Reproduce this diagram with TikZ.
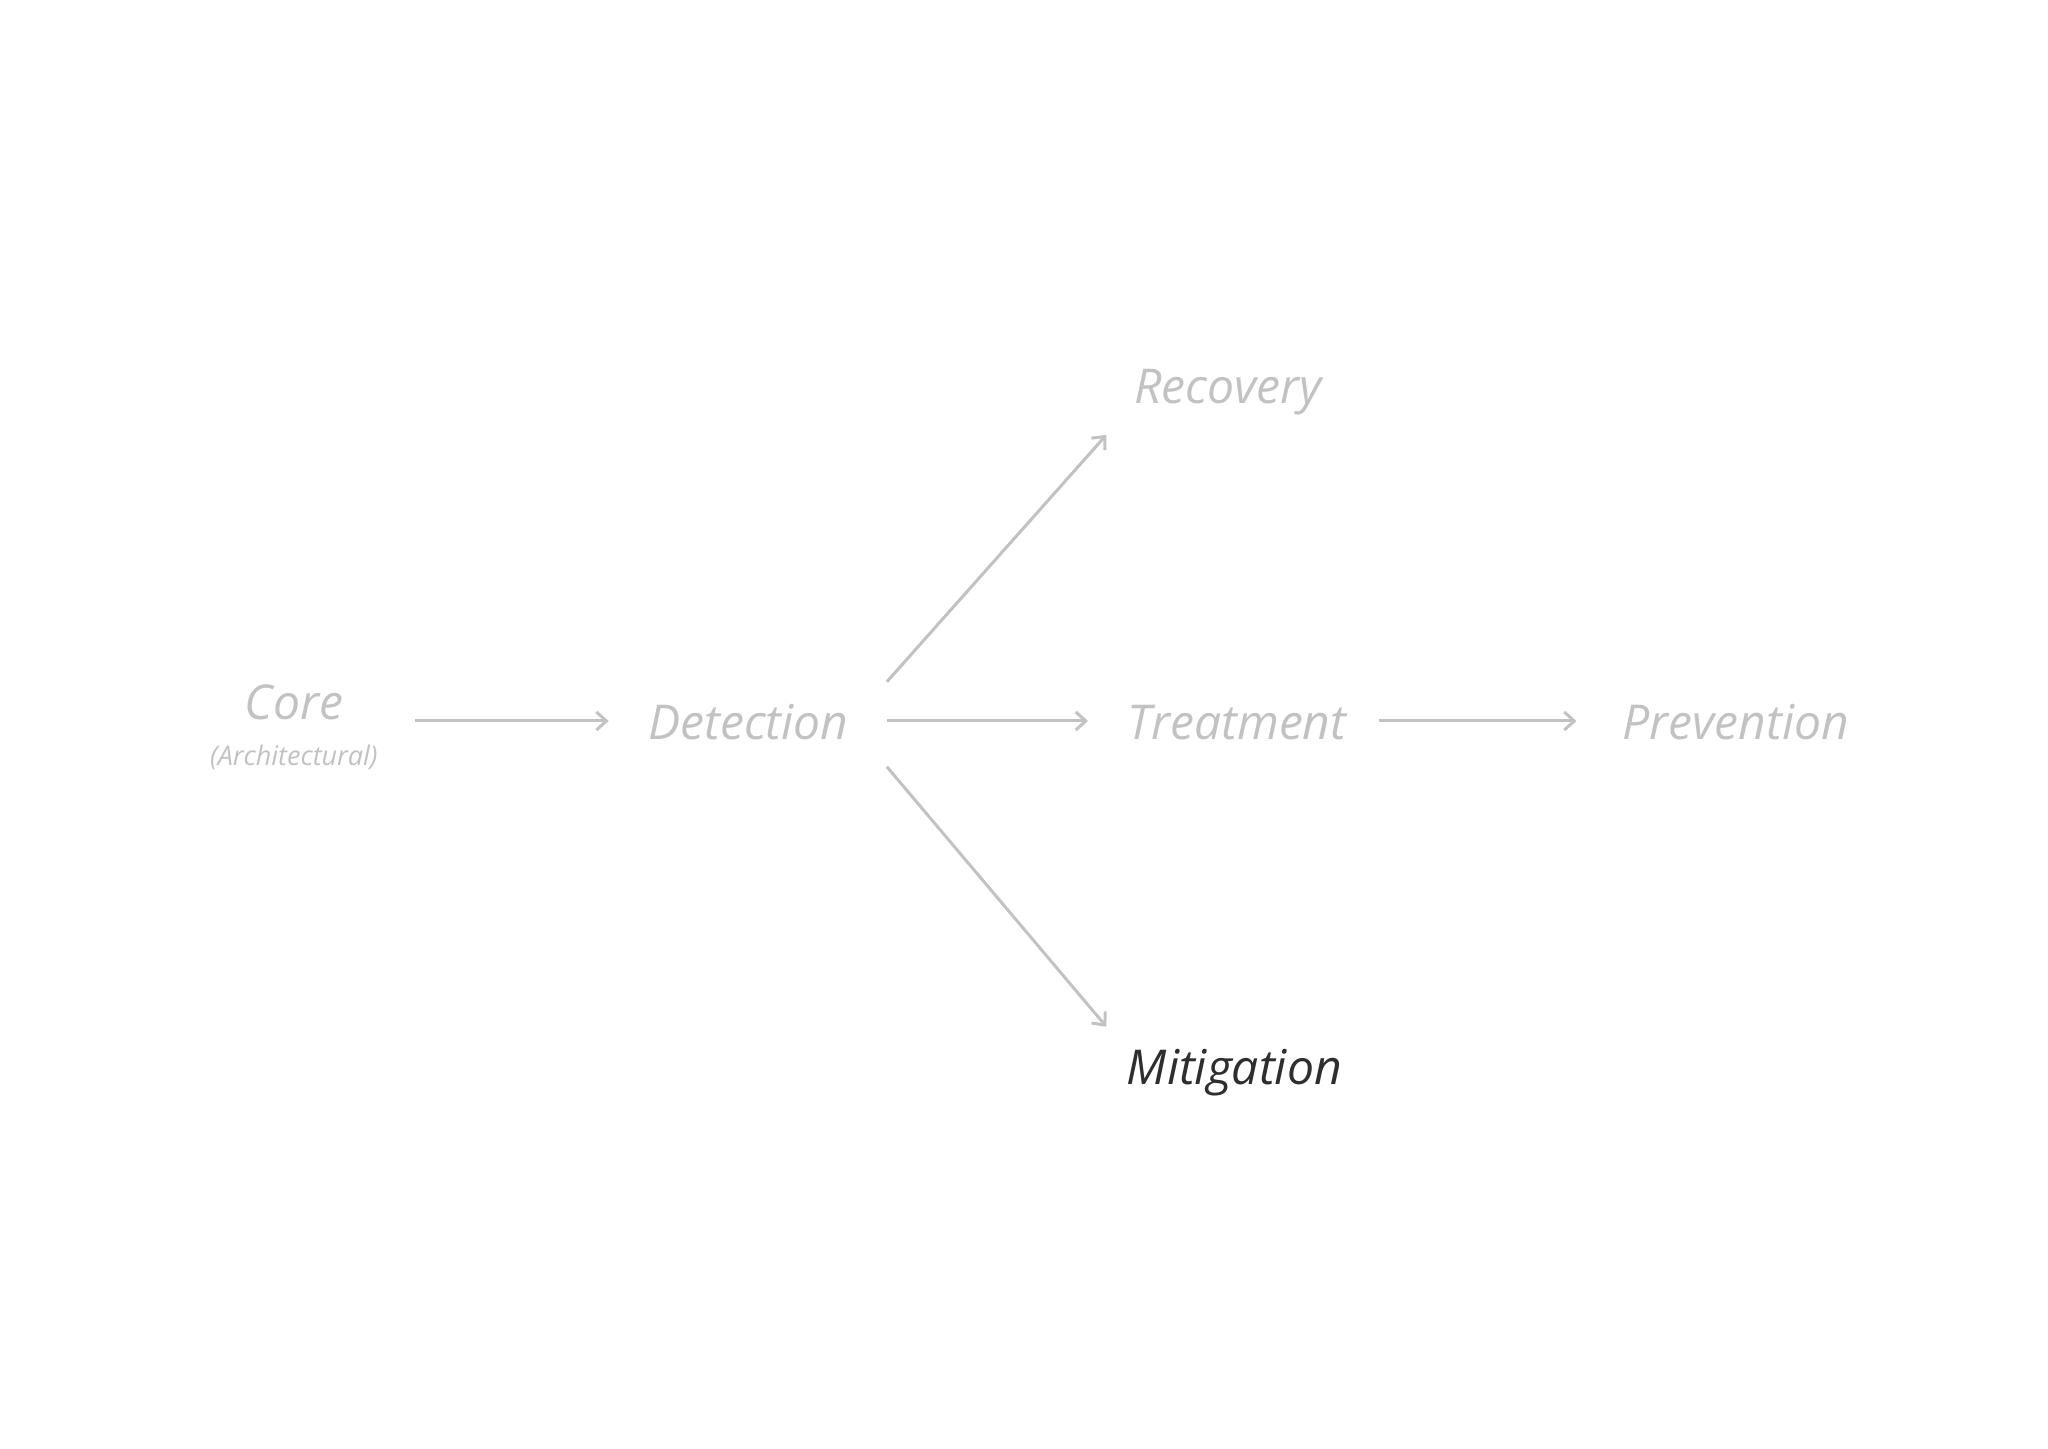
\documentclass[tikz,border=0pt]{standalone}
\usepackage{fontspec}
\setmainfont{Open Sans}
\usetikzlibrary{arrows.meta}
\definecolor{lg}{HTML}{C2C2C2}
\definecolor{dk}{HTML}{2E2E2E}
\begin{document}
\begin{tikzpicture}[x=1.306pt,y=-1.306pt,
  lbl/.style={font=\fontsize{48}{56}\selectfont\itshape,text=lg,inner sep=0pt},
  arr/.style={draw=lg,line width=3pt,-{Straight Barb[length=10pt,width=18pt,line width=3pt]}}]
\useasboundingbox (0,0) rectangle (1568,1109);
\fill[white] (0,0) rectangle (1568,1109);
\node[lbl] (core) at (225,538) {Core};
\node[lbl,font=\fontsize{27}{32}\selectfont\itshape] (arch) at (225,580) {(Architectural)};
\node[lbl] (det) at (573,553) {Detection};
\node[lbl] (treat) at (947,553) {Treatment};
\node[lbl] (prev) at (1329,553) {Prevention};
\node[lbl] (rec) at (940,300) {Recovery};
\node[lbl,text=dk] (mit) at (945,821) {Mitigation};
\coordinate (a1) at (318,552); \coordinate (a2) at (466,552);
\coordinate (b1) at (679,552); \coordinate (b2) at (833,552);
\coordinate (c1) at (1056,552); \coordinate (c2) at (1207,552);
\coordinate (d1) at (679,522); \coordinate (d2) at (847,333);
\coordinate (e1) at (679,587); \coordinate (e2) at (847,786);
\draw[arr] (a1) -- (a2);
\draw[arr] (b1) -- (b2);
\draw[arr] (c1) -- (c2);
\draw[arr] (d1) -- (d2);
\draw[arr] (e1) -- (e2);
\end{tikzpicture}
\end{document}
